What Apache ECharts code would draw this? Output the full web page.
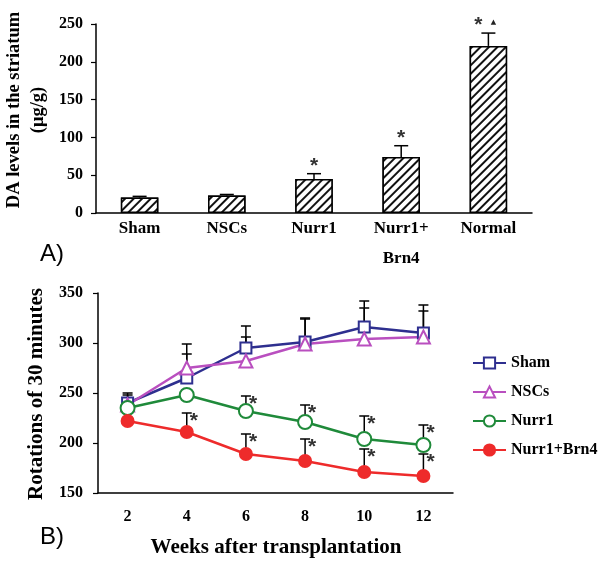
<!DOCTYPE html>
<html><head><meta charset="utf-8">
<script src="https://cdn.jsdelivr.net/npm/echarts/dist/echarts.min.js"></script>
<style>html,body{margin:0;padding:0;background:#fff}#c{width:604px;height:569px}</style>
</head><body><div id="c"></div>
<script>
// ---- Panel A data ----
const barCategories = ['Sham', 'NSCs', 'Nurr1', 'Nurr1+\nBrn4', 'Normal'];
const barValues = [20.5, 23, 45, 74, 221];
const barErrTop = [22, 24.5, 52, 89, 238];
const barStars = ['', '', '*', '*', '*'];
const barTriangles = ['', '', '', '', '▲'];
const barTicks = [0, 50, 100, 150, 200, 250];

// ---- Panel B data ----
const weeks = ['2', '4', '6', '8', '10', '12'];
const seriesNames = ['Sham', 'NSCs', 'Nurr1', 'Nurr1+Brn4'];
const shamValues = [240, 265, 295, 301, 316, 310];
const shamErrTop = [250, 289, 317, 325, 342, 338];
const nscValues = [238, 275, 282, 299, 304, 306];
const nscErrTop = [248, 299, 306, 324, 335, 332];
const nurr1Values = [235, 248, 232, 221, 204, 198];
const nurr1ErrTop = [null, null, 247, 238, 227, 218];
const brn4Values = [222, 211, 189, 182, 171, 167];
const brn4ErrTop = [null, 230, 209, 204, 194, 189];
const nurr1Sig = [false, false, true, true, true, true];
const brn4Sig = [false, true, true, true, true, true];
const noSig = [false, false, false, false, false, false];

const serif = 'Liberation Serif';
const chart = echarts.init(document.getElementById('c'), null, {renderer: 'canvas'});

function barErrRender(params, api) {
  const i = params.dataIndex;
  const p0 = api.coord([i, barValues[i]]);
  const p1 = api.coord([i, barErrTop[i]]);
  const cw = 7;
  const children = [
    {type: 'line', shape: {x1: p0[0], y1: p0[1], x2: p1[0], y2: p1[1]}, style: {stroke: '#000', lineWidth: 1.5}},
    {type: 'line', shape: {x1: p1[0] - cw, y1: p1[1], x2: p1[0] + cw, y2: p1[1]}, style: {stroke: '#000', lineWidth: 1.5}}
  ];
  if (barStars[i]) {
    const dx = barTriangles[i] ? -10 : 0;
    children.push({type: 'text', x: p1[0] + dx, y: p1[1] + 3,
      style: {text: barStars[i], fill: '#333', font: 'bold 21px "Liberation Sans"', align: 'center', verticalAlign: 'bottom'}});
  }
  if (barTriangles[i]) {
    children.push({type: 'text', x: p1[0] + 5, y: p1[1] - 7,
      style: {text: barTriangles[i], fill: '#222', font: '7px "DejaVu Sans"', align: 'center', verticalAlign: 'bottom'}});
  }
  return {type: 'group', children};
}

function makeLineErr(values, errTop, sig) {
  return function (params, api) {
    const i = params.dataIndex;
    if (errTop[i] == null) return null;
    const p0 = api.coord([i, values[i]]);
    const p1 = api.coord([i, errTop[i]]);
    const cw = 5;
    const children = [
      {type: 'line', shape: {x1: p0[0], y1: p0[1], x2: p1[0], y2: p1[1]}, style: {stroke: '#000', lineWidth: 1.5}},
      {type: 'line', shape: {x1: p1[0] - cw, y1: p1[1], x2: p1[0] + cw, y2: p1[1]}, style: {stroke: '#000', lineWidth: 1.5}}
    ];
    if (sig[i]) {
      children.push({type: 'text', x: p1[0] + 3, y: p1[1] - 2,
        style: {text: '*', fill: '#333', font: 'bold 21px "Liberation Sans"', align: 'left', verticalAlign: 'top'}});
    }
    return {type: 'group', children};
  };
}

function errSeries(name, values, errTop, sig) {
  return {
    name: name, type: 'custom', xAxisIndex: 1, yAxisIndex: 1, z: 1,
    renderItem: makeLineErr(values, errTop, sig),
    data: values.map((v, i) => [i, v]),
    silent: true
  };
}

function lineSeries(name, values, color, symbol, size, filled) {
  return {
    name: name, type: 'line', xAxisIndex: 1, yAxisIndex: 1, z: 3,
    data: values, symbol: symbol, symbolSize: size, showAllSymbol: true,
    lineStyle: {color: color, width: 2.5},
    itemStyle: {color: filled ? color : '#fff', borderColor: color, borderWidth: 2},
    emphasis: {disabled: true}
  };
}

const option = {
  animation: false,
  backgroundColor: '#fff',
  grid: [
    {left: 96, top: 24, width: 436, height: 189},
    {left: 98, top: 293, width: 355, height: 200}
  ],
  xAxis: [
    {
      type: 'category', gridIndex: 0, data: barCategories,
      axisLine: {lineStyle: {color: '#000', width: 1.5}},
      axisTick: {inside: true, length: 4, lineStyle: {color: '#000', width: 1.2}},
      axisLabel: {
        interval: 0, hideOverlap: false,
        color: '#000', fontFamily: serif, fontWeight: 'bold', fontSize: 17, margin: 6, lineHeight: 20,
        formatter: function (v) {
          const parts = v.split('\n');
          return parts.length > 1 ? '{a|' + parts[0] + '}\n{b|' + parts[1] + '}' : v;
        },
        rich: {
          a: {fontFamily: serif, fontWeight: 'bold', fontSize: 17, lineHeight: 20, color: '#000'},
          b: {fontFamily: serif, fontWeight: 'bold', fontSize: 17, lineHeight: 40, color: '#000'}
        }
      }
    },
    {
      type: 'category', gridIndex: 1, data: weeks,
      axisLine: {lineStyle: {color: '#000', width: 1.5}},
      axisTick: {inside: true, length: 4, lineStyle: {color: '#000', width: 1.2}},
      axisLabel: {interval: 0, color: '#000', fontFamily: serif, fontWeight: 'bold', fontSize: 16, margin: 16}
    }
  ],
  yAxis: [
    {
      type: 'value', gridIndex: 0, min: barTicks[0], max: barTicks[barTicks.length - 1], interval: 50,
      axisLine: {show: true, lineStyle: {color: '#000', width: 1.5}},
      axisTick: {show: true, length: 5, lineStyle: {color: '#000', width: 1.2}},
      splitLine: {show: false},
      axisLabel: {color: '#000', fontFamily: serif, fontWeight: 'bold', fontSize: 16, margin: 13}
    },
    {
      type: 'value', gridIndex: 1, min: 150, max: 350, interval: 50,
      axisLine: {show: true, lineStyle: {color: '#000', width: 1.5}},
      axisTick: {show: true, length: 5, lineStyle: {color: '#000', width: 1.2}},
      splitLine: {show: false},
      axisLabel: {color: '#000', fontFamily: serif, fontWeight: 'bold', fontSize: 16, margin: 15}
    }
  ],
  legend: {
    data: seriesNames, orient: 'vertical', left: 472, top: 355, padding: 0,
    itemWidth: 33, itemHeight: 14, itemGap: 13,
    textStyle: {color: '#000', fontFamily: serif, fontWeight: 'bold', fontSize: 16, lineHeight: 16},
    selectedMode: false
  },
  graphic: [
    {type: 'text', x: 14, y: 110, rotation: Math.PI / 2,
      style: {text: 'DA levels in the striatum', font: 'bold 18.5px "Liberation Serif"', fill: '#000', align: 'center', verticalAlign: 'middle'}},
    {type: 'text', x: 38, y: 110, rotation: Math.PI / 2,
      style: {text: '(μg/g)', font: 'bold 18.5px "Liberation Serif"', fill: '#000', align: 'center', verticalAlign: 'middle'}},
    {type: 'text', x: 40, y: 254,
      style: {text: 'A)', font: '24px "Liberation Sans"', fill: '#000', align: 'left', verticalAlign: 'middle'}},
    {type: 'text', x: 37, y: 394, rotation: Math.PI / 2,
      style: {text: 'Rotations of 30 minutes', font: 'bold 21px "Liberation Serif"', fill: '#000', align: 'center', verticalAlign: 'middle'}},
    {type: 'text', x: 40, y: 537,
      style: {text: 'B)', font: '24px "Liberation Sans"', fill: '#000', align: 'left', verticalAlign: 'middle'}},
    {type: 'text', x: 276, y: 548,
      style: {text: 'Weeks after transplantation', font: 'bold 21px "Liberation Serif"', fill: '#000', align: 'center', verticalAlign: 'middle'}}
  ],
  series: [
    {
      name: 'DA', type: 'bar', xAxisIndex: 0, yAxisIndex: 0, data: barValues, barWidth: '43%',
      itemStyle: {
        color: '#fff', borderColor: '#000', borderWidth: 1.5,
        decal: {symbol: 'rect', symbolSize: 1, color: '#111', backgroundColor: '#fff',
          dashArrayX: [1, 0], dashArrayY: [1.1, 3.1], rotation: -Math.PI / 4}
      },
      emphasis: {disabled: true}
    },
    {
      name: 'DAerr', type: 'custom', xAxisIndex: 0, yAxisIndex: 0, z: 4,
      renderItem: barErrRender, data: barValues.map((v, i) => [i, v]), silent: true
    },
    errSeries('e0', shamValues, shamErrTop, noSig),
    errSeries('e1', nscValues, nscErrTop, noSig),
    errSeries('e2', nurr1Values, nurr1ErrTop, nurr1Sig),
    errSeries('e3', brn4Values, brn4ErrTop, brn4Sig),
    lineSeries('Sham', shamValues, '#2e2f8f', 'rect', 11, false),
    lineSeries('NSCs', nscValues, '#b94fbf', 'triangle', 13, false),
    lineSeries('Nurr1', nurr1Values, '#1f8a3a', 'circle', 14, false),
    lineSeries('Nurr1+Brn4', brn4Values, '#ee2b2b', 'circle', 12, true)
  ]
};
chart.setOption(option);
</script></body></html>
